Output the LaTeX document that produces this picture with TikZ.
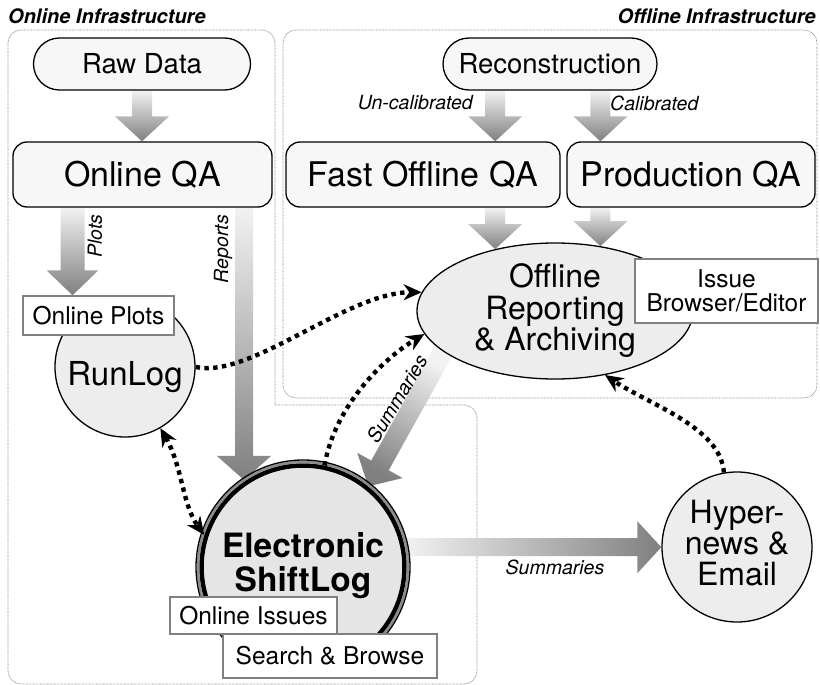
\documentclass[tikz,border=0pt]{standalone}
\usepackage{fontspec}
\setmainfont{TeX Gyre Heros}
\usetikzlibrary{arrows.meta, shapes.geometric, shapes.misc, calc, backgrounds}

\newcommand{\fsize}[2]{\fontsize{#1}{#2}\selectfont}
\newcommand{\stack}[2]{\raisebox{#1}{\begin{tabular}{@{}c@{}}#2\end{tabular}}}
% shaded block arrow: from, to, half shaft, half head, head length
\newcommand{\flowarrow}[5]{%
  \path[flow] let \p1=(#1), \p2=(#2), \n1={atan2(\y2-\y1,\x2-\x1)},
    \n2={veclen(\x2-\x1,\y2-\y1)} in
    [shading angle=\n1+90, shift={(\p1)}, rotate=\n1]
    (0pt,#3) -- ({\n2*1pt-#5},#3) -- ({\n2*1pt-#5},#4) -- ({\n2*1pt},0pt)
    -- ({\n2*1pt-#5},-#4) -- ({\n2*1pt-#5},-#3) -- (0pt,-#3) -- cycle;}

\tikzset{
  pill/.style={rounded rectangle, draw, line width=1.3pt, fill=black!3,
    minimum height=52pt, inner sep=0pt, font=\fsize{27.5}{30}},
  qabox/.style={rectangle, rounded corners=14pt, draw, line width=1.3pt,
    fill=black!3, minimum height=65pt, inner sep=0pt, font=\fsize{34}{36}},
  bubble/.style={circle, draw, line width=1.3pt, fill=black!7, align=center,
    inner sep=0pt},
  tag/.style={rectangle, draw=black!50, line width=1.5pt, fill=white,
    align=center, inner sep=0pt, font=\fsize{24.5}{24}},
  lbl/.style={inner sep=0pt, font=\fsize{19.5}{20}\itshape},
  title/.style={inner sep=0pt, font=\fsize{20}{20}\bfseries\itshape},
  region/.style={draw=black!45, line width=0.7pt, dash pattern=on 0.7pt off 0.7pt,
    rounded corners=13pt},
  flow/.style={shade, top color=black!5, bottom color=black!50},
  link/.style={line width=4.4pt, dash pattern=on 4.4pt off 4.4pt},
  >={Stealth[length=18pt, width=16pt]},
}

\begin{document}
\begin{tikzpicture}[x=1pt, y=-1pt]
\useasboundingbox (0,0) rectangle (820,685);

% titles
\node[title, anchor=base west] (onlinetitle) at (8,24) {Online Infrastructure};
\node[title, anchor=base east] (offlinetitle) at (816,24) {Offline Infrastructure};

% sources and QA
\node[pill, minimum width=217pt] (rawdata) at (142,64) {Raw Data};
\node[pill, minimum width=214pt] (recon) at (550,64) {Reconstruction};
\node[qabox, minimum width=259pt] (onlineqa) at (142.5,174.5) {Online QA};
\node[qabox, minimum width=274pt] (fastqa) at (423,174.5) {Fast Offline QA};
\node[qabox, minimum width=248pt] (prodqa) at (691,174.5) {Production QA};

% reporting
\node[ellipse, draw, line width=1.3pt, fill=black!7, minimum width=276pt,
  minimum height=136pt, inner sep=0pt, align=center, font=\fsize{32}{31.5}]
  (archive) at (555,311) {Offline\\Reporting\\\& Archiving};
\node[tag, minimum width=183pt, minimum height=64pt] (editor) at (726.5,291)
  {Issue\\Browser/Editor};

\node[bubble, minimum size=140pt, text height=36pt, text depth=0pt,
  font=\fsize{33}{33}] (runlog) at (125,367) {RunLog};
\node[tag, minimum width=151pt, minimum height=39pt] (onlineplots) at (98.5,315.5)
  {Online Plots};

\node[bubble, minimum size=203pt, line width=4.5pt, fill=black!10,
  font=\fsize{33.5}{33}\bfseries] (shiftlog) at (303,567)
  {\stack{5pt}{Electronic\\ShiftLog}};
\draw[black!45, line width=2.6pt] (shiftlog.center) circle[radius=105pt];
\draw[line width=1.3pt] (shiftlog.center) circle[radius=107pt];
\node[tag, minimum width=167pt, minimum height=37pt] (onlineissues) at (253.5,615.5)
  {Online Issues};
\node[tag, minimum width=214pt, minimum height=44pt] (search) at (330,656)
  {Search \& Browse};

\node[bubble, minimum size=150pt, font=\fsize{32}{28}] (hyper) at (737,547)
  {\stack{-7pt}{Hyper-\\news \&\\Email}};

% helper points
\coordinate (plotsx) at ($(onlineqa.south)+(-70,0)$);
\coordinate (reportsx) at ($(onlineqa.south)+(101.5,0)$);

\begin{scope}[on background layer]
% infrastructure regions
\draw[region] (275,405) -- (477,405) -- (477,684) -- (8,684) -- (8,30)
  -- (275,30) -- (275,405);
\draw[region] (283,30) rectangle (817,398);
% data flow
\flowarrow{rawdata.south}{rawdata.south |- onlineqa.north}{10pt}{27pt}{25pt}
\flowarrow{archive.134 |- recon.south}{archive.134 |- fastqa.north}{10pt}{27pt}{25pt}
\flowarrow{archive.55 |- recon.south}{archive.55 |- prodqa.north}{10pt}{27pt}{25pt}
\flowarrow{archive.134 |- fastqa.south}{archive.134}{10pt}{27pt}{25pt}
\flowarrow{archive.55 |- prodqa.south}{archive.55}{10pt}{27pt}{25pt}
\flowarrow{plotsx}{plotsx |- onlineplots.north}{12pt}{26pt}{25pt}
\flowarrow{reportsx}{reportsx |- shiftlog.123}{9pt}{27pt}{24pt}
\flowarrow{archive.200}{shiftlog.51}{10pt}{26pt}{24pt}
\flowarrow{shiftlog.11}{shiftlog.11 -| hyper.west}{9pt}{26pt}{24pt}
\end{scope}

% labels
\node[lbl, anchor=east] (uncallbl) at (473,103) {Un-calibrated};
\node[lbl, anchor=west] (callbl) at (610,103) {Calibrated};
\node[lbl, rotate=90] (plotslbl) at (95,236) {Plots};
\node[lbl, rotate=90] (reportslbl) at (223,249) {Reports};
\node[lbl, rotate=59] (sumlbl) at (397,399) {Summaries};
\node[lbl] (maillbl) at (555,567) {Summaries};

% links
\draw[link, ->] (runlog.east) .. controls +(55,12) and +(-75,0) .. (archive.172);
\draw[link, ->] (shiftlog.78) .. controls +(10,-60) and +(-40,24) .. (archive.190);
\draw[link, <->] (runlog.-60) .. controls +(22,38) and +(-22,-30) .. (shiftlog.162);
\draw[link, ->] (hyper.100) .. controls +(-3,-45) and +(45,30) .. (archive.-52);
\end{tikzpicture}
\end{document}
